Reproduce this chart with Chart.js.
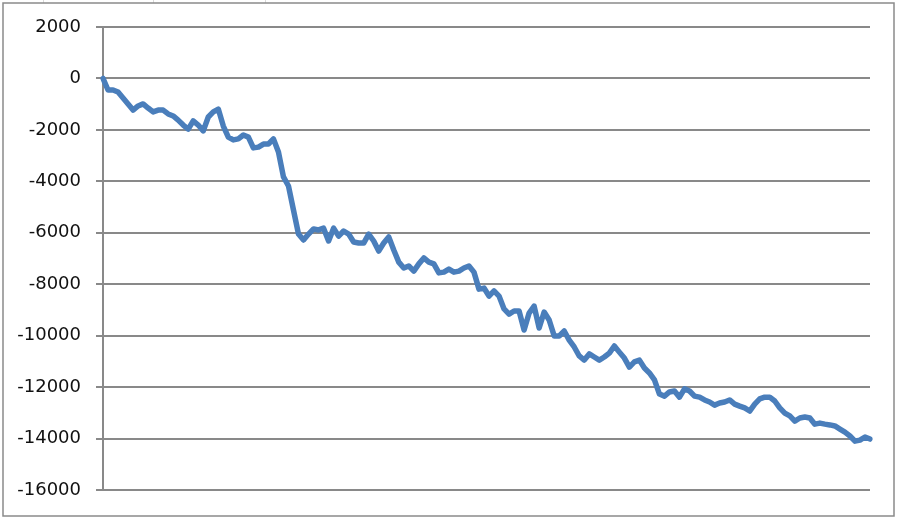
<!DOCTYPE html>
<html>
<head>
<meta charset="utf-8">
<script src="https://cdn.jsdelivr.net/npm/chart.js@4/dist/chart.umd.min.js"></script>
<style>
  html, body { margin: 0; padding: 0; background: #fff; }
  #wrap { width: 900px; height: 518px; }
</style>
</head>
<body>
<div id="wrap"><canvas id="chart" width="900" height="518"></canvas></div>
<script>
// cumulative series left to right
const values = [
  0, -450, -450, -530, -760, -990, -1230, -1070, -990, -1150,
  -1300, -1230, -1230, -1380, -1460, -1620, -1810, -1970, -1650, -1810,
  -2040, -1500, -1300, -1190, -1850, -2280, -2390, -2350, -2200, -2280,
  -2700, -2670, -2550, -2550, -2350, -2860, -3830, -4180, -5120, -6050,
  -6280, -6050, -5850, -5890, -5820, -6320, -5820, -6130, -5930, -6050,
  -6360, -6400, -6400, -6050, -6320, -6710, -6400, -6160, -6670, -7140,
  -7370, -7290, -7490, -7210, -6980, -7140, -7210, -7560, -7530, -7410,
  -7530, -7490, -7370, -7290, -7530, -8190, -8150, -8460, -8260, -8460,
  -8960, -9160, -9040, -9040, -9780, -9120, -8850, -9700, -9080, -9390,
  -10010, -10010, -9820, -10170, -10440, -10790, -10950, -10710, -10830, -10950,
  -10830, -10680, -10400, -10640, -10870, -11220, -11020, -10950, -11260, -11450,
  -11720, -12270, -12350, -12190, -12150, -12390, -12070, -12150, -12350, -12390,
  -12500, -12580, -12700, -12620, -12580, -12500, -12660, -12740, -12810, -12930,
  -12660, -12460, -12390, -12390, -12540, -12810, -13010, -13120, -13320, -13200,
  -13160, -13200, -13440, -13400, -13440, -13470, -13510, -13630, -13750, -13900,
  -14100, -14060, -13940, -14020
];
const categories = values.map(() => '');
const yTicks = [2000, 0, -2000, -4000, -6000, -8000, -10000, -12000, -14000, -16000];

const gridGray = '#898989';

// Excel-style outer chart border
const frame = {
  id: 'frame',
  beforeDraw(chart) {
    const c = chart.ctx;
    c.save();
    c.fillStyle = '#fff';
    c.fillRect(0, 0, chart.width, chart.height);
    // faint sheet lines outside the chart
    c.strokeStyle = '#d9d9d9';
    c.lineWidth = 1;
    [43.5, 153.5, 265.5].forEach(x => { c.beginPath(); c.moveTo(x, 0); c.lineTo(x, 3); c.stroke(); });
    c.strokeStyle = '#8a8a8a';
    c.lineWidth = 1.5;
    c.strokeRect(3, 3, 891, 513);
    c.restore();
  }
};

new Chart(document.getElementById('chart'), {
  type: 'line',
  data: {
    labels: categories,
    datasets: [{
      data: values,
      borderColor: '#4a7ebb',
      borderWidth: 5.5,
      pointRadius: 0,
      fill: false,
      tension: 0,
      borderJoinStyle: 'round',
      borderCapStyle: 'round'
    }]
  },
  options: {
    responsive: false,
    animation: false,
    layout: { padding: { left: 0, top: 27, right: 30, bottom: 28 } },
    plugins: {
      legend: { display: false },
      tooltip: { enabled: false }
    },
    scales: {
      x: {
        display: false,
        offset: false
      },
      y: {
        min: -16000,
        max: 2000,
        afterBuildTicks: s => { s.ticks = yTicks.map(v => ({ value: v })); },
        afterFit: s => { s.width = 103; },
        grid: {
          color: gridGray,
          lineWidth: 2,
          tickLength: 7,
          drawTicks: true
        },
        border: { color: gridGray, width: 2 },
        ticks: {
          padding: 15,
          color: '#111',
          font: { family: 'DejaVu Sans', size: 18 },
          callback: v => String(v)
        }
      }
    }
  },
  plugins: [frame]
});
</script>
</body>
</html>
